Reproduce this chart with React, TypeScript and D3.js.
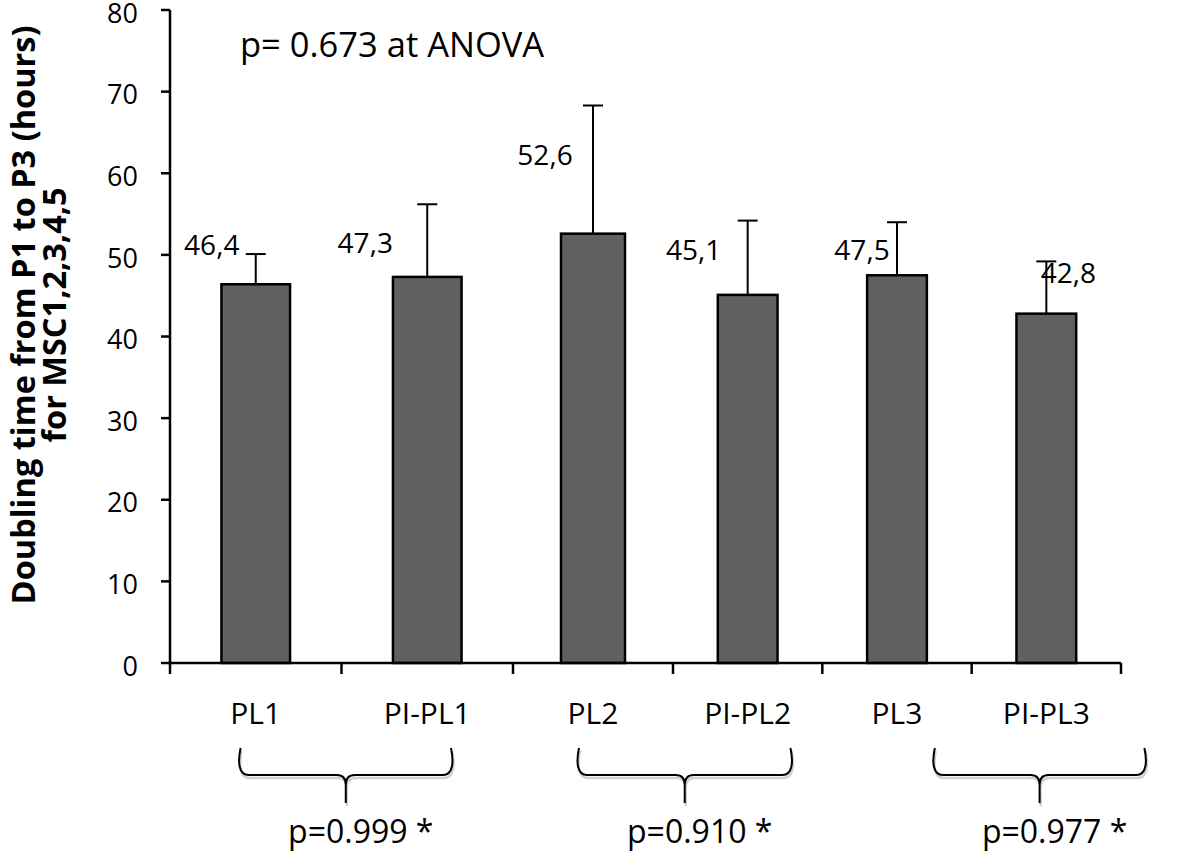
import React from "react";
import * as d3 from "d3";

const categories = ["PL1", "PI-PL1", "PL2", "PI-PL2", "PL3", "PI-PL3"];
const values = [46.4, 47.3, 52.6, 45.1, 47.5, 42.8];
const errors = [3.7, 8.9, 15.7, 9.1, 6.5, 6.4];
const valueLabels = ["46,4", "47,3", "52,6", "45,1", "47,5", "42,8"];
const yTicks = [0, 10, 20, 30, 40, 50, 60, 70, 80];
const comparisons = [
  { from: 0.4, to: 1.65, label: "p=0.999 *" },
  { from: 2.4, to: 3.8, label: "p=0.910 *" },
  { from: 4.74, to: 6.17, label: "p=0.977 *" },
];
const anovaText = "p= 0.673 at ANOVA";
const yTitle1 = "Doubling time from P1 to P3 (hours)";
const yTitle2 = "for MSC1,2,3,4,5";

// layout (pixel offsets for manually placed data labels)
const labelLayout = [
  { dx: -44, dy: -29 },
  { dx: -62, dy: -24 },
  { dx: -48, dy: -69 },
  { dx: -54, dy: -35 },
  { dx: -35, dy: -15 },
  { dx: 22, dy: -31 },
];

const W = 1200;
const H = 855;
const FONT = "'Open Sans', sans-serif";

export default function App() {
  const y = d3.scaleLinear().domain([0, 80]).range([663, 10]);
  const x = d3.scaleLinear().domain([0, 2, 3, 6]).range([170, 513, 673, 1121]);
  const bandW = (i: number) => x(i + 1) - x(i);
  const cx = (i: number) => x(i + 0.5);

  const braceY0 = 748;
  const braceYM = 775;
  const braceYB = 803;
  const bracePath = (x0: number, x1: number) => {
    const xc = (x0 + x1) / 2;
    return [
      `M${x0 + 2},${braceY0}`,
      `C${x0 - 1},${braceY0 + 14} ${x0},${braceYM} ${x0 + 10},${braceYM}`,
      `L${xc - 9},${braceYM}`,
      `Q${xc},${braceYM} ${xc},${braceYM + 10}`,
      `L${xc},${braceYB}`,
      `M${xc},${braceYM + 10}`,
      `Q${xc},${braceYM} ${xc + 9},${braceYM}`,
      `L${x1 - 10},${braceYM}`,
      `C${x1},${braceYM} ${x1 + 1},${braceY0 + 14} ${x1 - 2},${braceY0}`,
    ].join(" ");
  };

  return (
    <svg
      width={W}
      height={H}
      style={{ position: "absolute", left: 0, top: 0, background: "#fff" }}
      fontFamily={FONT}
    >
      <rect x={0} y={0} width={W} height={H} fill="#fff" />
      {/* y axis title */}
      <text
        transform={`translate(35,315) rotate(-90)`}
        textAnchor="middle"
        fontWeight="bold"
        fontSize={32.5}
      >
        {yTitle1}
      </text>
      <text
        transform={`translate(66,315) rotate(-90)`}
        textAnchor="middle"
        fontWeight="bold"
        fontSize={32.5}
      >
        {yTitle2}
      </text>

      {/* bars */}
      {values.map((v, i) => {
        const w = bandW(i) * 0.4;
        return (
          <rect
            key={"b" + i}
            x={cx(i) - w / 2}
            y={y(v)}
            width={w}
            height={y(0) - y(v)}
            fill="#606060"
            stroke="#000"
            strokeWidth={2.5}
          />
        );
      })}
      {/* error bars */}
      {values.map((v, i) => (
        <g key={"e" + i} stroke="#000" strokeWidth={2}>
          <line x1={cx(i)} x2={cx(i)} y1={y(v)} y2={y(v + errors[i])} />
          <line x1={cx(i) - 10} x2={cx(i) + 10} y1={y(v + errors[i])} y2={y(v + errors[i])} />
        </g>
      ))}
      {/* value labels */}
      {values.map((v, i) => (
        <text
          key={"l" + i}
          x={cx(i) + labelLayout[i].dx}
          y={y(v) + labelLayout[i].dy}
          textAnchor="middle"
          fontSize={28}
        >
          {valueLabels[i]}
        </text>
      ))}

      {/* y axis */}
      <line x1={x(0)} x2={x(0)} y1={y(80)} y2={y(0)} stroke="#000" strokeWidth={2.5} />
      {yTicks.map((t) => (
        <g key={"yt" + t}>
          <line x1={x(0) - 9} x2={x(0)} y1={y(t)} y2={y(t)} stroke="#000" strokeWidth={2.5} />
          <text x={138} y={y(t) + 3} dy="0.36em" textAnchor="end" fontSize={27}>
            {t}
          </text>
        </g>
      ))}
      {/* x axis */}
      <line x1={x(0) - 2} x2={x(6)} y1={y(0)} y2={y(0)} stroke="#000" strokeWidth={2.5} />
      {d3.range(0, 7).map((i) => (
        <line key={"xt" + i} x1={x(i)} x2={x(i)} y1={y(0)} y2={y(0) + 11} stroke="#000" strokeWidth={2.5} />
      ))}
      {categories.map((c, i) => (
        <text key={"c" + i} x={cx(i)} y={724} textAnchor="middle" fontSize={30}>
          {c}
        </text>
      ))}

      {/* anova text */}
      <text x={240} y={57} fontSize={34.5}>
        {anovaText}
      </text>

      {/* comparison braces */}
      {comparisons.map((c, k) => {
        const x0 = x(c.from);
        const x1 = x(c.to);
        const xc = (x0 + x1) / 2;
        return (
          <g key={"br" + k}>
            <path
              d={bracePath(x0, x1)}
              transform="translate(1,3)"
              fill="none"
              stroke="#d0d0d0"
              strokeWidth={2.5}
            />
            <path d={bracePath(x0, x1)} fill="none" stroke="#000" strokeWidth={2} />
            <text x={xc + 15} y={843} textAnchor="middle" fontSize={32}>
              {c.label}
            </text>
          </g>
        );
      })}
    </svg>
  );
}
